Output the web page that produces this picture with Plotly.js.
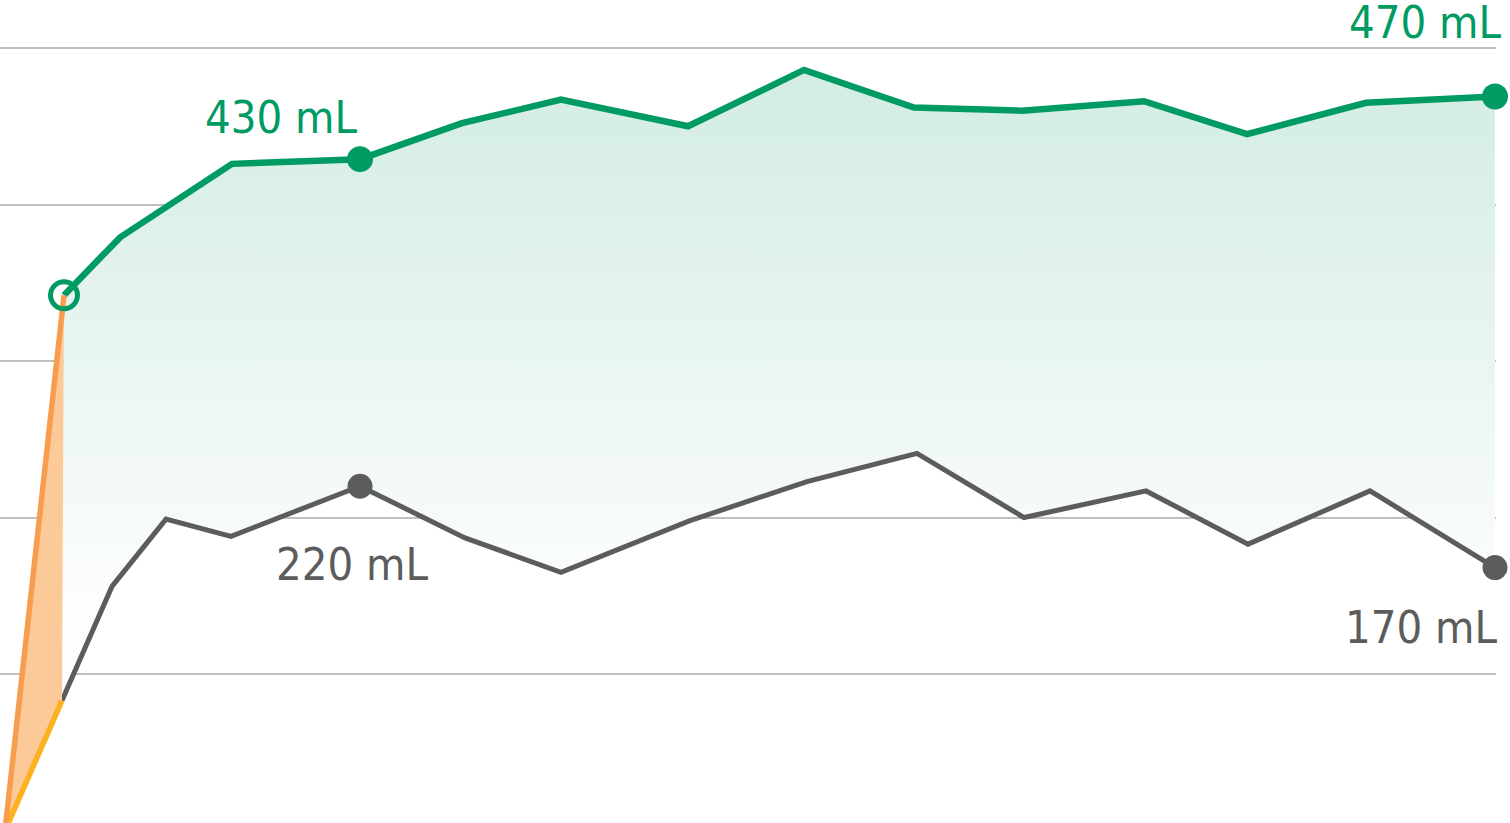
<!DOCTYPE html>
<html>
<head>
<meta charset="utf-8">
<script src="https://cdn.plot.ly/plotly-3.0.1.min.js"></script>
<style>
  html, body { margin: 0; padding: 0; background: #ffffff; }
  #chart { width: 1510px; height: 823px; }
</style>
</head>
<body>
<div id="chart"></div>
<script>
// time positions (arbitrary time units) and volumes (mL)
const greenX = [64, 120, 232, 360, 462, 561, 688, 804, 914, 1022, 1144, 1247, 1366, 1495];
const greenY = [342, 379, 426, 429, 452, 467, 450, 486, 462, 460, 466, 445, 465, 469];

const grayX = [62, 112, 166, 231, 360, 465, 561, 690, 807, 917, 1024, 1146, 1248, 1370, 1495];
const grayY = [83, 156, 199, 188, 220, 187, 165, 198, 223, 241, 200, 217, 183, 217, 168];

const startX = 5;
const startY = 0;

const orangeX = [startX, greenX[0]];
const orangeY = [startY, greenY[0]];
const yellowX = [startX, grayX[0]];
const yellowY = [startY, grayY[0]];

const labelGreenMid = "430 mL";
const labelGreenEnd = "470 mL";
const labelGrayMid = "220 mL";
const labelGrayEnd = "170 mL";

const GREEN = "#009a63";
const GRAY = "#5c5c5c";
const ORANGE = "#f89d4f";
const YELLOW = "#fbb21c";

const traces = [
  { x: [startX], y: [startY], type: "scatter", mode: "markers",
    marker: { color: GRAY, size: 16 }, cliponaxis: false, hoverinfo: "skip" },
  { x: grayX, y: grayY, type: "scatter", mode: "lines",
    line: { color: GRAY, width: 5 }, hoverinfo: "skip" },
  { x: greenX, y: greenY, type: "scatter", mode: "lines",
    line: { color: GREEN, width: 6.5 }, fill: "tonexty",
    fillgradient: { type: "vertical", start: 150, stop: 486,
      colorscale: [[0, "rgba(252,253,253,1)"], [1, "rgba(210,236,228,1)"]] },
    hoverinfo: "skip" },
  { x: yellowX, y: yellowY, type: "scatter", mode: "lines",
    line: { color: YELLOW, width: 5.5 }, hoverinfo: "skip", cliponaxis: false },
  { x: orangeX, y: orangeY, type: "scatter", mode: "lines",
    line: { color: ORANGE, width: 5.5 }, fill: "tonexty", fillcolor: "rgba(251,202,152,1)",
    hoverinfo: "skip", cliponaxis: false },
  { x: [greenX[0]], y: [greenY[0]], type: "scatter", mode: "markers",
    marker: { symbol: "circle-open", color: GREEN, size: 27, line: { width: 5, color: GREEN } },
    hoverinfo: "skip", cliponaxis: false },
  { x: [greenX[3], greenX[greenX.length - 1]], y: [greenY[3], greenY[greenY.length - 1]],
    type: "scatter", mode: "markers",
    marker: { color: GREEN, size: 26 }, hoverinfo: "skip", cliponaxis: false },
  { x: [grayX[4], grayX[grayX.length - 1]], y: [grayY[4], grayY[grayY.length - 1]],
    type: "scatter", mode: "markers",
    marker: { color: GRAY, size: 25 }, hoverinfo: "skip", cliponaxis: false }
];

const labelFont = (c) => ({ family: "'DejaVu Sans Condensed', Roboto, sans-serif", size: 45, color: c });

const layout = {
  width: 1510, height: 823,
  margin: { l: 0, r: 14, t: 0, b: 0, pad: 0 },
  paper_bgcolor: "#ffffff", plot_bgcolor: "#ffffff",
  showlegend: false,
  xaxis: { range: [0, 1496], showgrid: false, zeroline: false, showticklabels: false,
           ticks: "", showline: false, fixedrange: true },
  yaxis: { range: [4.8, 530.7], tickvals: [100, 200, 300, 400, 500], showgrid: true,
           gridcolor: "#c0c0c0", gridwidth: 2, zeroline: false, showticklabels: false,
           ticks: "", showline: false, fixedrange: true },
  annotations: [
    { x: greenX[3], y: greenY[3], text: labelGreenMid, showarrow: false,
      xanchor: "right", yanchor: "middle", xshift: 0, yshift: 42, font: labelFont(GREEN) },
    { x: greenX[greenX.length - 1], y: greenY[greenY.length - 1], text: labelGreenEnd, showarrow: false,
      xanchor: "right", yanchor: "middle", xshift: 9, yshift: 74, font: labelFont(GREEN) },
    { x: grayX[4], y: grayY[4], text: labelGrayMid, showarrow: false,
      xanchor: "center", yanchor: "middle", xshift: -8, yshift: -78, font: labelFont(GRAY) },
    { x: grayX[grayX.length - 1], y: grayY[grayY.length - 1], text: labelGrayEnd, showarrow: false,
      xanchor: "right", yanchor: "middle", xshift: 5, yshift: -60, font: labelFont(GRAY) }
  ]
};

Plotly.newPlot("chart", traces, layout, { displayModeBar: false, staticPlot: true });
</script>
</body>
</html>
